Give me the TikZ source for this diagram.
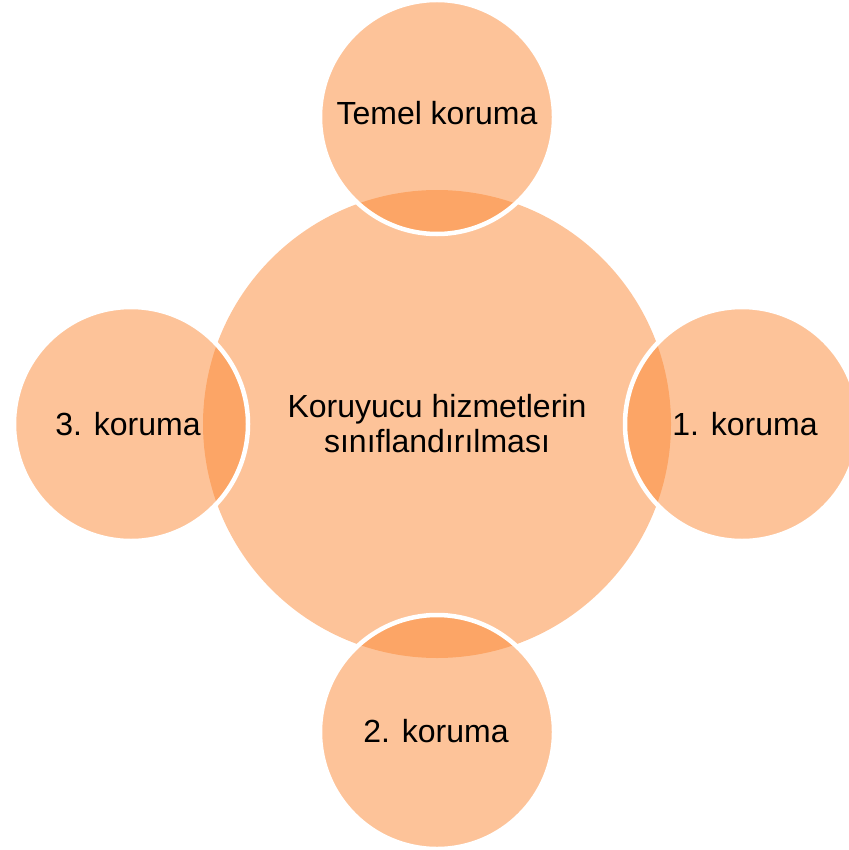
\documentclass[tikz,border=0pt]{standalone}
\usepackage{fontspec}
\setmainfont{Liberation Sans}
\definecolor{petal}{RGB}{251,136,52}

\tikzset{
  hub/.style={circle, minimum size=468pt, inner sep=0pt, fill=petal, fill opacity=0.5},
  sat/.style={circle, minimum size=234pt, inner sep=0pt, fill=petal, fill opacity=0.5, draw=white, line width=4.5pt},
  lbl/.style={align=center, font=\fontsize{32}{35}\selectfont, text=black}
}

\begin{document}
\begin{tikzpicture}[x=1pt,y=-1pt]
\useasboundingbox (0,0) rectangle (848,850);
\node[hub] (center) at (437,424) {};
\node[sat] (top) at (437,117) {};
\node[sat] (right) at (742,424) {};
\node[sat] (bottom) at (437,732) {};
\node[sat] (left) at (131,424) {};
\node[lbl] (centertxt) at (437,424) {Koruyucu hizmetlerin\\sınıflandırılması};
\node[lbl] (toptxt) at (437,113) {Temel koruma};
\node[lbl] (righttxt) at (745,424) {1. koruma};
\node[lbl] (bottomtxt) at (436,731) {2. koruma};
\node[lbl] (lefttxt) at (128,424) {3. koruma};
\end{tikzpicture}
\end{document}
